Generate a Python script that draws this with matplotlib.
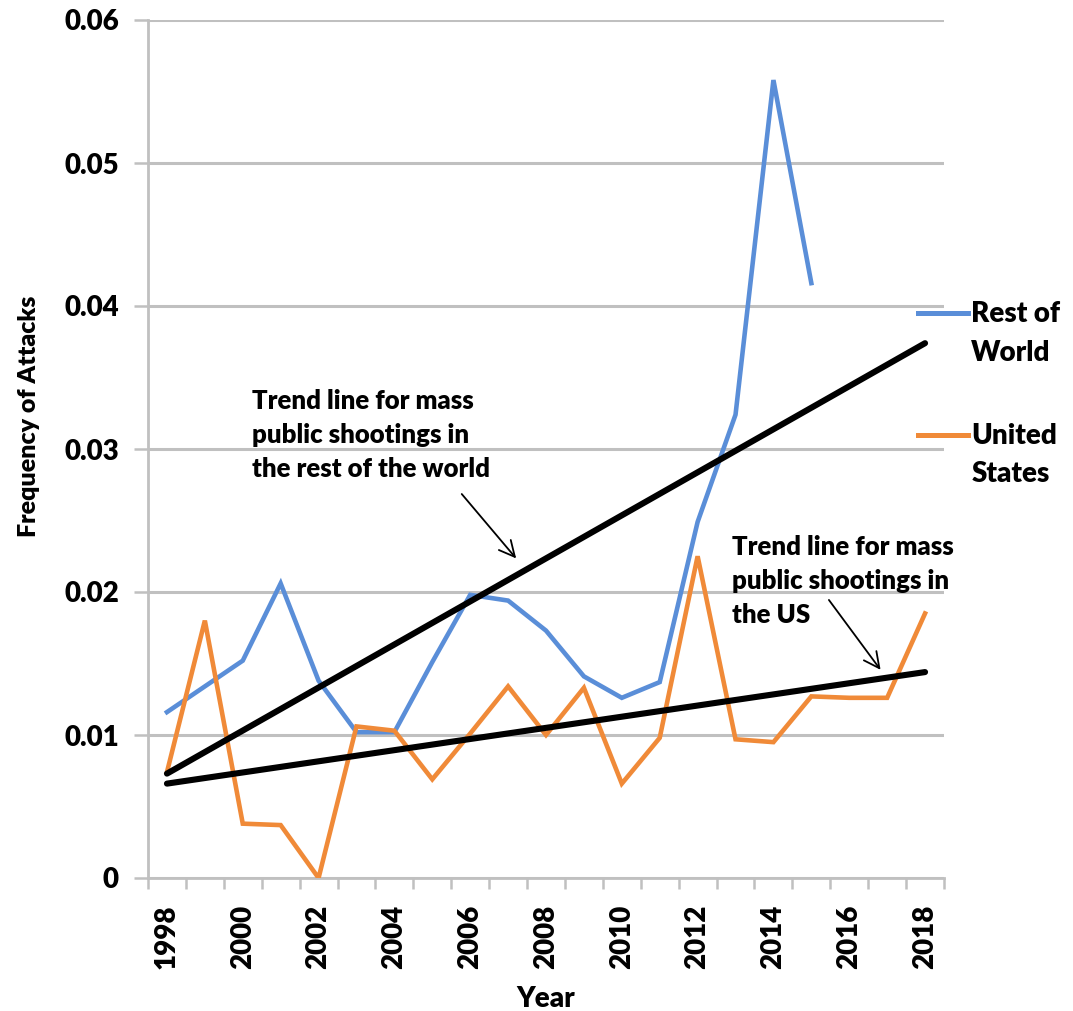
import numpy as np
import matplotlib
matplotlib.use("Agg")
import matplotlib.pyplot as plt

plt.rcParams['font.family'] = ['Lato', 'DejaVu Sans']
FW = 'heavy'

years = list(range(1998, 2019))
rest_of_world = [0.0116, 0.0134, 0.0152, 0.0206, 0.0138, 0.0102, 0.0102, 0.0151,
                 0.0198, 0.0194, 0.0173, 0.0141, 0.0126, 0.0137, 0.0249, 0.0324,
                 0.0558, 0.0416, np.nan, np.nan, np.nan]
united_states = [0.0074, 0.0180, 0.0038, 0.0037, 0.0000, 0.0106, 0.0103, 0.0069,
                 0.0101, 0.0134, 0.0100, 0.0133, 0.0066, 0.0098, 0.0225, 0.0097,
                 0.0095, 0.0127, 0.0126, 0.0126, 0.0185]
trend_years = [1998, 2018]
trend_row = [0.0073, 0.0374]
trend_us = [0.0066, 0.0144]
y_ticks = [0, 0.01, 0.02, 0.03, 0.04, 0.05, 0.06]
y_tick_labels = ['0', '0.01', '0.02', '0.03', '0.04', '0.05', '0.06']

W, H = 1073, 1011
fig = plt.figure(figsize=(W / 100, H / 100), dpi=100)
ax = fig.add_axes([148 / W, 1 - 878 / H, (944 - 148) / W, (878 - 20) / H])

x = np.arange(len(years))
xi = {y: i for i, y in enumerate(years)}
blue = '#5A8ED8'
orange = '#F08A38'
grid = '#C0C0C0'

ax.plot(x, rest_of_world, color=blue, lw=3.3, label='Rest of\nWorld', zorder=3,
        solid_joinstyle='miter')
ax.plot(x, united_states, color=orange, lw=3.3, label='United\nStates', zorder=3,
        solid_joinstyle='miter')
ax.plot([xi[t] for t in trend_years], trend_row, color='black', lw=4.4, zorder=4,
        solid_capstyle='round')
ax.plot([xi[t] for t in trend_years], trend_us, color='black', lw=4.4, zorder=4,
        solid_capstyle='round')

ax.set_xlim(-0.5, len(years) - 0.5)
ax.set_ylim(0, 0.06)
ax.set_yticks(y_ticks)
ax.set_yticklabels(y_tick_labels, fontsize=20, fontweight=FW)
ax.set_xticks(x[::2])
ax.set_xticklabels([str(y) for y in years[::2]], rotation=90, fontsize=20,
                   fontweight=FW)
ax.set_xticks(np.arange(-0.5, len(years), 1.0), minor=True)
ax.tick_params(axis='x', which='major', length=0, pad=19)
ax.tick_params(axis='x', which='minor', length=8, width=1.8, color=grid, direction='out')
ax.tick_params(axis='y', length=10, width=1.8, color=grid, pad=11)
ax.yaxis.grid(True, color=grid, lw=2.2)
ax.set_axisbelow(True)
for s in ['top', 'right']:
    ax.spines[s].set_visible(False)
for s in ['left', 'bottom']:
    ax.spines[s].set_color(grid)
    ax.spines[s].set_linewidth(2.0)

ax.set_xlabel('Year', fontsize=20, fontweight=FW, labelpad=12)
ax.set_ylabel('Frequency of Attacks', fontsize=18, fontweight=FW)
ax.yaxis.set_label_coords((40 - 148) / (944 - 148), (878 - 416) / (878 - 20))

ax.text(2.24, 0.0342, 'Trend line for mass\npublic shootings in\nthe rest of the world',
        fontsize=18.5, fontweight=FW, va='top', ha='left', linespacing=1.5)
ax.annotate('', xy=(9.26, 0.0222), xytext=(7.73, 0.0270),
            arrowprops=dict(arrowstyle='->', lw=1.3, color='black', mutation_scale=28))
ax.text(14.91, 0.0240, 'Trend line for mass\npublic shootings in\nthe US',
        fontsize=18.5, fontweight=FW, va='top', ha='left', linespacing=1.5)
ax.annotate('', xy=(18.87, 0.0144), xytext=(17.42, 0.0196),
            arrowprops=dict(arrowstyle='->', lw=1.3, color='black', mutation_scale=28))

leg = ax.legend(loc='upper left', bbox_to_anchor=(918 / W, 1 - 301 / H),
                bbox_transform=fig.transFigure, frameon=False,
                prop={'size': 20, 'weight': FW},
                handlelength=1.8, handletextpad=0.12, labelspacing=2.05,
                borderaxespad=0, borderpad=0)
for t in leg.get_texts():
    t.set_linespacing(1.6)
for h in leg.legend_handles:
    yd = h.get_ydata()
    h.set_ydata([v + 15 for v in yd])
    h.set_linewidth(3.6)

fig.savefig('out.png', dpi=100)
